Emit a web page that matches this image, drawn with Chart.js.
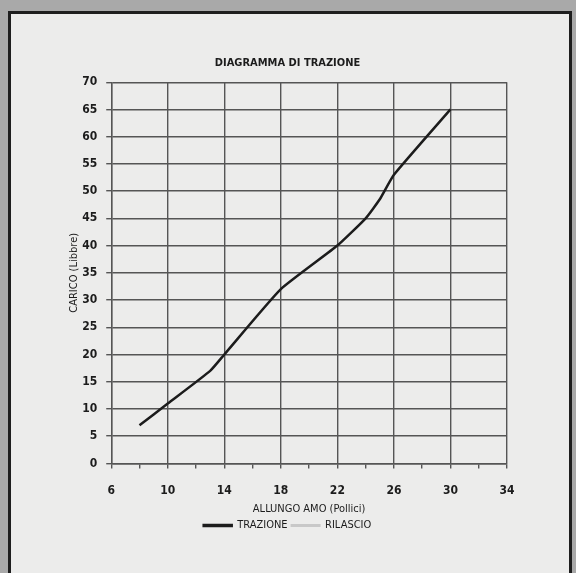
<!DOCTYPE html>
<html>
<head>
<meta charset="utf-8">
<title>Diagramma di trazione</title>
<script src="https://cdn.jsdelivr.net/npm/chart.js@4.4.1/dist/chart.umd.min.js"></script>
<style>
    html, body { margin: 0; padding: 0; }
    body { width: 576px; height: 573px; background: #a9a9a9; position: relative; overflow: hidden; }
    #frame { position: absolute; left: 8px; top: 11px; width: 558px; height: 570px; border: 3px solid #1e1e1e; background: #ececeb; }
    #chart { position: absolute; left: 0; top: 0; }
</style>
</head>
<body>
<div id="frame"></div>
<canvas id="chart" width="576" height="573"></canvas>
<script>
// Diagramma di trazione

const allungo = [8, 10, 13, 14, 18, 22, 24, 25, 26, 30];      // pollici
const trazione = [7, 11, 17, 20, 32, 40, 45, 48.5, 53, 65];   // libbre
const rilascio = [];                                          // nessun dato tracciato

const xMin = 6, xMax = 34, xStep = 2;
const yMin = 0, yMax = 70, yStep = 5;

const FONT = '"DejaVu Sans Condensed", "DejaVu Sans", sans-serif';
const INK = '#1c1c1c';
const GRID = '#555555';

// major x ticks every 4 starting from 6, minor in between
function isMajorX(value) {
    return (value - xMin) % 4 === 0;
}

const ctx = document.getElementById('chart').getContext('2d');
const chart = new Chart(ctx, {
    type: 'line',
    data: {
        datasets: [
            {
                label: 'TRAZIONE',
                data: allungo.map((x, i) => ({ x: x, y: trazione[i] })),
                borderColor: INK,
                backgroundColor: INK,
                borderWidth: 2.5,
                tension: 0.15,
                pointRadius: 0,
                fill: false,
            },
            {
                label: 'RILASCIO',
                data: rilascio,
                borderColor: '#c8c8c8',
                backgroundColor: '#c8c8c8',
                borderWidth: 2,
                pointRadius: 0,
            },
        ],
    },
    options: {
        responsive: false,
        animation: false,
        layout: {
            padding: { left: 68, right: 69, top: 57, bottom: 32 },
        },
        scales: {
            x: {
                type: 'linear',
                min: xMin,
                max: xMax,
                ticks: {
                    stepSize: xStep,
                    color: INK,
                    font: { family: FONT, size: 12, weight: 'bold' },
                    padding: 15,
                    maxRotation: 0,
                    autoSkip: false,
                    callback: (value) => isMajorX(value) ? value : '',
                },
                grid: {
                    color: (c) => isMajorX(c.tick.value) ? GRID : 'rgba(0,0,0,0)',
                    tickColor: GRID,
                    lineWidth: 1.4,
                    tickLength: 5,
                },
                border: { color: GRID, width: 1.4 },
                title: {
                    display: true,
                    text: 'ALLUNGO AMO (Pollici)',
                    color: INK,
                    font: { family: FONT, size: 11 },
                    padding: { top: -10, bottom: 0 },
                },
            },
            y: {
                min: yMin,
                max: yMax,
                ticks: {
                    stepSize: yStep,
                    color: INK,
                    font: { family: FONT, size: 12, weight: 'bold' },
                    padding: 9,
                },
                grid: {
                    color: GRID,
                    lineWidth: 1.4,
                    tickLength: 5,
                },
                border: { color: GRID, width: 1.4 },
                title: {
                    display: true,
                    text: 'CARICO (Libbre)',
                    color: INK,
                    font: { family: FONT, size: 11 },
                    padding: { top: 0, bottom: -8 },
                },
            },
        },
        plugins: {
            title: {
                display: true,
                text: 'DIAGRAMMA DI TRAZIONE',
                color: INK,
                font: { family: FONT, size: 11, weight: 'bold' },
                padding: { top: 0, bottom: 12 },
            },
            legend: {
                position: 'bottom',
                labels: {
                    color: INK,
                    font: { family: FONT, size: 11 },
                    boxWidth: 28,
                    boxHeight: 1,
                    padding: 4,
                },
            },
            tooltip: { enabled: false },
        },
    },
});
</script>
</body>
</html>
